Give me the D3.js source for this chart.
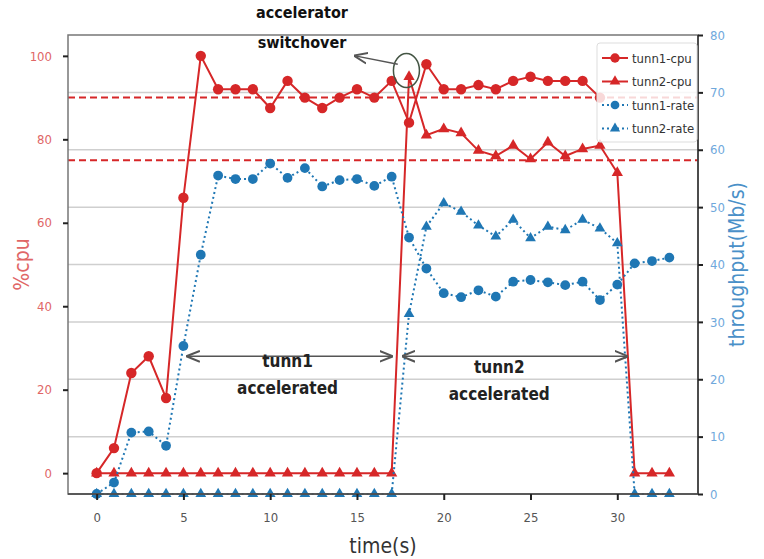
<!DOCTYPE html>
<html>
<head>
<meta charset="utf-8">
<script src="https://cdn.jsdelivr.net/npm/d3@7"></script>
<style>
  body { margin: 0; background: #fff; }
  text { font-family: "DejaVu Sans", sans-serif; font-stretch: condensed; }
</style>
</head>
<body>
<script>
// values, one per second
var tunn1Cpu = [0, 6, 24, 28, 18, 66, 100, 92, 92, 92, 87.5, 94, 90, 87.5, 90, 92, 90, 94,
                84, 98, 92, 92, 93, 92, 94, 95, 94, 94, 94, 90];
var tunn2Cpu = [0, 0, 0, 0, 0, 0, 0, 0, 0, 0, 0, 0, 0, 0, 0, 0, 0, 0,
                95, 81, 82.5, 81.5, 77.3, 76, 78.5, 75.3, 79.3, 76, 77.7, 78.5, 72, 0, 0, 0];
var tunn1Rate = [0, 2, 10.7, 10.9, 8.4, 25.8, 41.7, 55.5, 54.9, 54.9, 57.6, 55.1, 56.8, 53.6, 54.7, 54.9, 53.7, 55.3,
                 44.7, 39.3, 35, 34.3, 35.5, 34.4, 37, 37.3, 36.9, 36.4, 37, 33.8, 36.5, 40.2, 40.6, 41.2];
var tunn2Rate = [0, 0, 0, 0, 0, 0, 0, 0, 0, 0, 0, 0, 0, 0, 0, 0, 0, 0,
                 31.4, 46.6, 50.7, 49.2, 46.8, 44.9, 47.8, 44.6, 46.6, 46, 47.8, 46.3, 43.7, 0, 0, 0];
var cpuLimits = [90, 75];

var xTicks = [0, 5, 10, 15, 20, 25, 30];
var cpuTicks = [0, 20, 40, 60, 80, 100];
var rateTicks = [0, 10, 20, 30, 40, 50, 60, 70, 80];

var red = "#d62728", blue = "#1f77b4";

var width = 764, height = 559;
var margin = {top: 35, right: 66, bottom: 65, left: 68};

var svg = d3.select("body").append("svg")
            .attr("width", width)
            .attr("height", height);

var x = d3.scaleLinear().domain([-1.65, 34.65]).range([margin.left, width - margin.right]);
var yCpu = d3.scaleLinear().domain([-5, 105]).range([height - margin.bottom, margin.top]);
var yRate = d3.scaleLinear().domain([0, 80]).range([height - margin.bottom, margin.top]);

var x0 = margin.left, x1 = width - margin.right;
var y0 = height - margin.bottom, y1 = margin.top;

// grid from the right axis
svg.append("g").selectAll("line")
   .data(rateTicks.slice(1, -1))
   .enter().append("line")
   .attr("x1", x0).attr("x2", x1)
   .attr("y1", d => yRate(d)).attr("y2", d => yRate(d))
   .style("stroke", "#cfcfcf").style("stroke-width", 1.5);

// cpu limit lines
svg.append("g").selectAll("line")
   .data(cpuLimits)
   .enter().append("line")
   .attr("x1", x0).attr("x2", x1)
   .attr("y1", d => yCpu(d)).attr("y2", d => yCpu(d))
   .style("stroke", red).style("stroke-width", 2)
   .style("stroke-dasharray", "7,4");

function series(values, yScale, color, dash, marker, size) {
  var g = svg.append("g");
  var line = d3.line().x((d, i) => x(i)).y(d => yScale(d));
  g.append("path")
   .datum(values)
   .attr("d", line)
   .style("fill", "none")
   .style("stroke", color)
   .style("stroke-width", 2)
   .style("stroke-dasharray", dash);
  g.selectAll("path.m")
   .data(values)
   .enter().append("path")
   .attr("class", "m")
   .attr("transform", (d, i) => "translate(" + x(i) + "," + yScale(d) + ")")
   .attr("d", d3.symbol().type(marker).size(size))
   .style("fill", color);
}

series(tunn1Cpu, yCpu, red, null, d3.symbolCircle, 85);
series(tunn2Cpu, yCpu, red, null, d3.symbolTriangle, 55);
series(tunn1Rate, yRate, blue, "2,3", d3.symbolCircle, 75);
series(tunn2Rate, yRate, blue, "2,3", d3.symbolTriangle, 50);

// frame
svg.append("rect")
   .attr("x", x0).attr("y", y1)
   .attr("width", x1 - x0).attr("height", y0 - y1)
   .style("fill", "none").style("stroke", "#777").style("stroke-width", 1.5);
svg.append("line").attr("x1", x1).attr("x2", x1).attr("y1", y1).attr("y2", y0)
   .style("stroke", "#333").style("stroke-width", 1.5);
svg.append("line").attr("x1", x0).attr("x2", x1).attr("y1", y0).attr("y2", y0)
   .style("stroke", "#444").style("stroke-width", 1.5);

// axes
function styleAxis(g, color) {
  g.select(".domain").remove();
  g.selectAll(".tick line").style("stroke", "#222").style("stroke-width", 2);
  g.selectAll(".tick text").style("fill", color).style("font-size", "13px");
}

svg.append("g")
   .attr("transform", "translate(0," + y0 + ")")
   .call(d3.axisBottom(x).tickValues(xTicks).tickSize(6).tickPadding(13))
   .call(g => styleAxis(g, "#555"));

svg.append("g")
   .attr("transform", "translate(" + x0 + ",0)")
   .call(d3.axisLeft(yCpu).tickValues(cpuTicks).tickSize(5).tickPadding(11))
   .call(g => styleAxis(g, "#e06666"));

svg.append("g")
   .attr("transform", "translate(" + x1 + ",0)")
   .call(d3.axisRight(yRate).tickValues(rateTicks).tickSize(5).tickPadding(7))
   .call(g => styleAxis(g, "#6fa8dc"));

// axis titles
svg.append("text")
   .attr("x", (x0 + x1) / 2).attr("y", 553)
   .attr("text-anchor", "middle")
   .style("font-size", "21px").style("fill", "#333")
   .text("time(s)");

svg.append("text")
   .attr("transform", "translate(29," + ((y0 + y1) / 2) + ") rotate(-90)")
   .attr("text-anchor", "middle")
   .style("font-size", "21px").style("fill", "#e06666")
   .text("%cpu");

svg.append("text")
   .attr("transform", "translate(744," + ((y0 + y1) / 2) + ") rotate(-90)")
   .attr("text-anchor", "middle")
   .style("font-size", "21px").style("fill", "#4a90c8")
   .text("throughput(Mb/s)");

// annotations
var defs = svg.append("defs");
defs.append("marker")
    .attr("id", "head")
    .attr("viewBox", "0 0 10 10")
    .attr("refX", 9).attr("refY", 5)
    .attr("markerWidth", 9).attr("markerHeight", 9)
    .attr("orient", "auto-start-reverse")
    .append("path")
    .attr("d", "M0,1 L10,5 L0,9")
    .style("fill", "none").style("stroke", "#555").style("stroke-width", 1.5);

var spans = [
  {from: 5.25, to: 17.0, label: ["tunn1", "accelerated"], tx: 11.0, ty: 25.5},
  {from: 17.65, to: 30.55, label: ["tunn2", "accelerated"], tx: 23.2, ty: 24}
];
var spanCpu = 28;

spans.forEach(s => {
  svg.append("line")
     .attr("x1", x(s.from)).attr("x2", x(s.to))
     .attr("y1", yCpu(spanCpu)).attr("y2", yCpu(spanCpu))
     .attr("marker-start", "url(#head)")
     .attr("marker-end", "url(#head)")
     .style("stroke", "#555").style("stroke-width", 1.5);
  var t = svg.append("text")
     .attr("x", x(s.tx)).attr("y", yCpu(s.ty))
     .attr("text-anchor", "middle")
     .style("font-size", "17px").style("font-weight", "bold").style("fill", "#222");
  t.selectAll("tspan").data(s.label).enter().append("tspan")
   .attr("x", x(s.tx)).attr("dy", (d, i) => i ? "1.6em" : 0)
   .text(d => d);
});

// switchover mark
svg.append("ellipse")
   .attr("cx", x(17.85)).attr("cy", yCpu(96.5))
   .attr("rx", 13).attr("ry", 17)
   .style("fill", "none").style("stroke", "#445544").style("stroke-width", 1.5);
svg.append("line")
   .attr("x1", x(17.35)).attr("y1", yCpu(98))
   .attr("x2", x(14.9)).attr("y2", yCpu(100))
   .attr("marker-end", "url(#head)")
   .style("stroke", "#555").style("stroke-width", 1.5);
var sw = svg.append("text")
   .attr("x", 302).attr("y", 18)
   .attr("text-anchor", "middle")
   .style("font-size", "16px").style("font-weight", "bold").style("fill", "#111");
sw.append("tspan").attr("x", 302).text("accelerator");
sw.append("tspan").attr("x", 302).attr("dy", 30).text("switchover");

// legend
var legendItems = [
  {name: "tunn1-cpu", color: red, dash: null, marker: d3.symbolCircle, size: 70},
  {name: "tunn2-cpu", color: red, dash: null, marker: d3.symbolTriangle, size: 50},
  {name: "tunn1-rate", color: blue, dash: "2,3", marker: d3.symbolCircle, size: 60},
  {name: "tunn2-rate", color: blue, dash: "2,3", marker: d3.symbolTriangle, size: 45}
];

var legend = svg.append("g").attr("transform", "translate(597,43)");
legend.append("rect")
      .attr("width", 100).attr("height", 99).attr("rx", 3)
      .style("fill", "#fff").style("fill-opacity", 0.82)
      .style("stroke", "#ddd");

var rows = legend.selectAll("g.row")
                 .data(legendItems)
                 .enter().append("g")
                 .attr("transform", (d, i) => "translate(0," + (15 + i * 23.5) + ")");
rows.append("line")
    .attr("x1", 5).attr("x2", 31)
    .style("stroke", d => d.color).style("stroke-width", 2)
    .style("stroke-dasharray", d => d.dash);
rows.append("path")
    .attr("transform", "translate(18,0)")
    .attr("d", d => d3.symbol().type(d.marker).size(d.size)())
    .style("fill", d => d.color);
rows.append("text")
    .attr("x", 35).attr("dy", "0.35em")
    .style("font-size", "13px").style("fill", "#333")
    .text(d => d.name);
</script>
</body>
</html>
